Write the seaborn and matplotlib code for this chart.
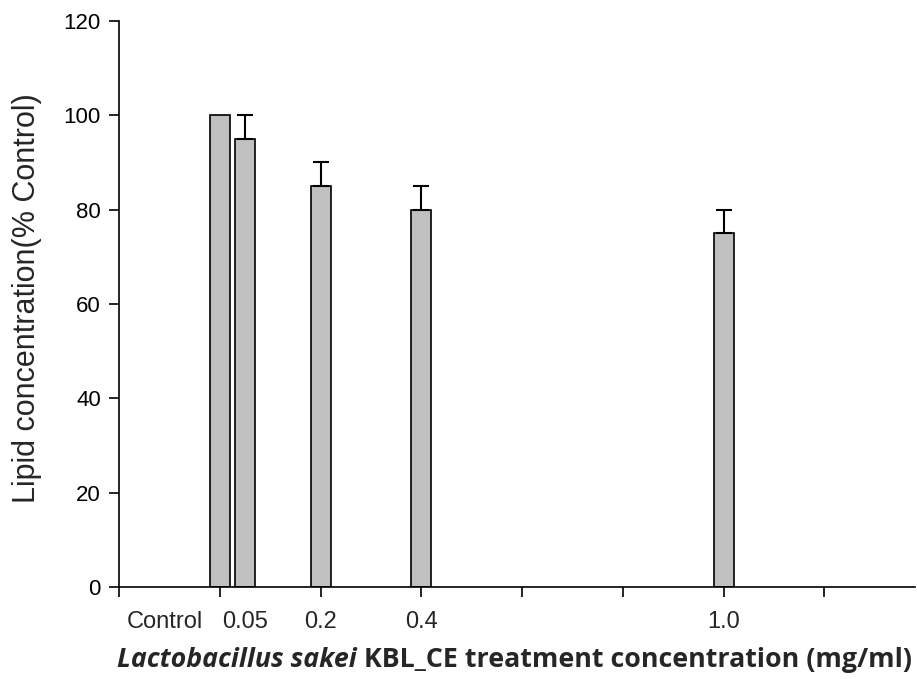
import matplotlib
matplotlib.use("Agg")
import matplotlib.pyplot as plt
import seaborn as sns
import pandas as pd
from matplotlib.transforms import offset_copy

# data
conc = [0.0, 0.05, 0.2, 0.4, 1.0]
labels = ["Control", "0.05", "0.2", "0.4", "1.0"]
lipid = [100, 95, 85, 80, 75]
err_up = [0, 5, 5, 5, 5]
label_x = [-0.11, 0.05, 0.2, 0.4, 1.0]

df = pd.DataFrame({"conc": conc, "lipid": lipid})

sns.set_style("ticks")
plt.rcParams["font.family"] = ["Liberation Sans", "DejaVu Sans"]

fig = plt.figure(figsize=(9.17, 6.79), dpi=100)
ax = fig.add_axes([0.1298, 0.1355, 0.8682, 0.8336])

sns.barplot(data=df, x="conc", y="lipid", native_scale=True, width=0.8,
            color="#c0c0c0", edgecolor="black", linewidth=1.2,
            saturation=1, errorbar=None, ax=ax)

# only the upper half of each error bar is shown
has_err = [i for i, e in enumerate(err_up) if e > 0]
ax.errorbar([conc[i] for i in has_err], [lipid[i] for i in has_err],
            yerr=[[0] * len(has_err), [err_up[i] for i in has_err]],
            fmt="none", ecolor="black", elinewidth=1.5, capsize=5.8, capthick=1.5)

ax.set_xlim(-0.2, 1.38)
ax.set_ylim(0, 120)
ax.set_xticks([-0.2, 0.0, 0.2, 0.4, 0.6, 0.8, 1.0, 1.2])
ax.set_xticklabels([])
ax.set_yticks(range(0, 121, 20))
ax.tick_params(axis="both", direction="out", length=7, width=1.2, pad=6,
               labelsize=16, colors="black")
for s in ["left", "bottom"]:
    ax.spines[s].set_linewidth(1.2)
    ax.spines[s].set_color("black")
sns.despine(ax=ax)
ax.set_xlabel("")
ax.set_ylabel("Lipid concentration(% Control)", fontsize=22)
ax.yaxis.set_label_coords(-0.097, 0.51)

for x, lab in zip(label_x, labels):
    ax.text(x, -7.4, lab, ha="center", va="center", fontsize=17, transform=ax.transData)

# x-axis title: italic species name followed by bold text
bold_font = ["Open Sans", "DejaVu Sans"]
t1 = fig.text(117 / 917, 1 - 660 / 679, "Lactobacillus sakei", fontsize=19.3,
              fontweight="bold", fontstyle="italic", family=bold_font, va="center")
fig.canvas.draw()
w = t1.get_window_extent().width
fig.text(117 / 917, 1 - 660 / 679, " KBL_CE treatment concentration (mg/ml)",
         fontsize=19.3, fontweight="bold", family=bold_font, va="center",
         transform=offset_copy(fig.transFigure, fig=fig, x=w * 72 / fig.dpi, units="points"))

fig.savefig("out.png", dpi=100)
